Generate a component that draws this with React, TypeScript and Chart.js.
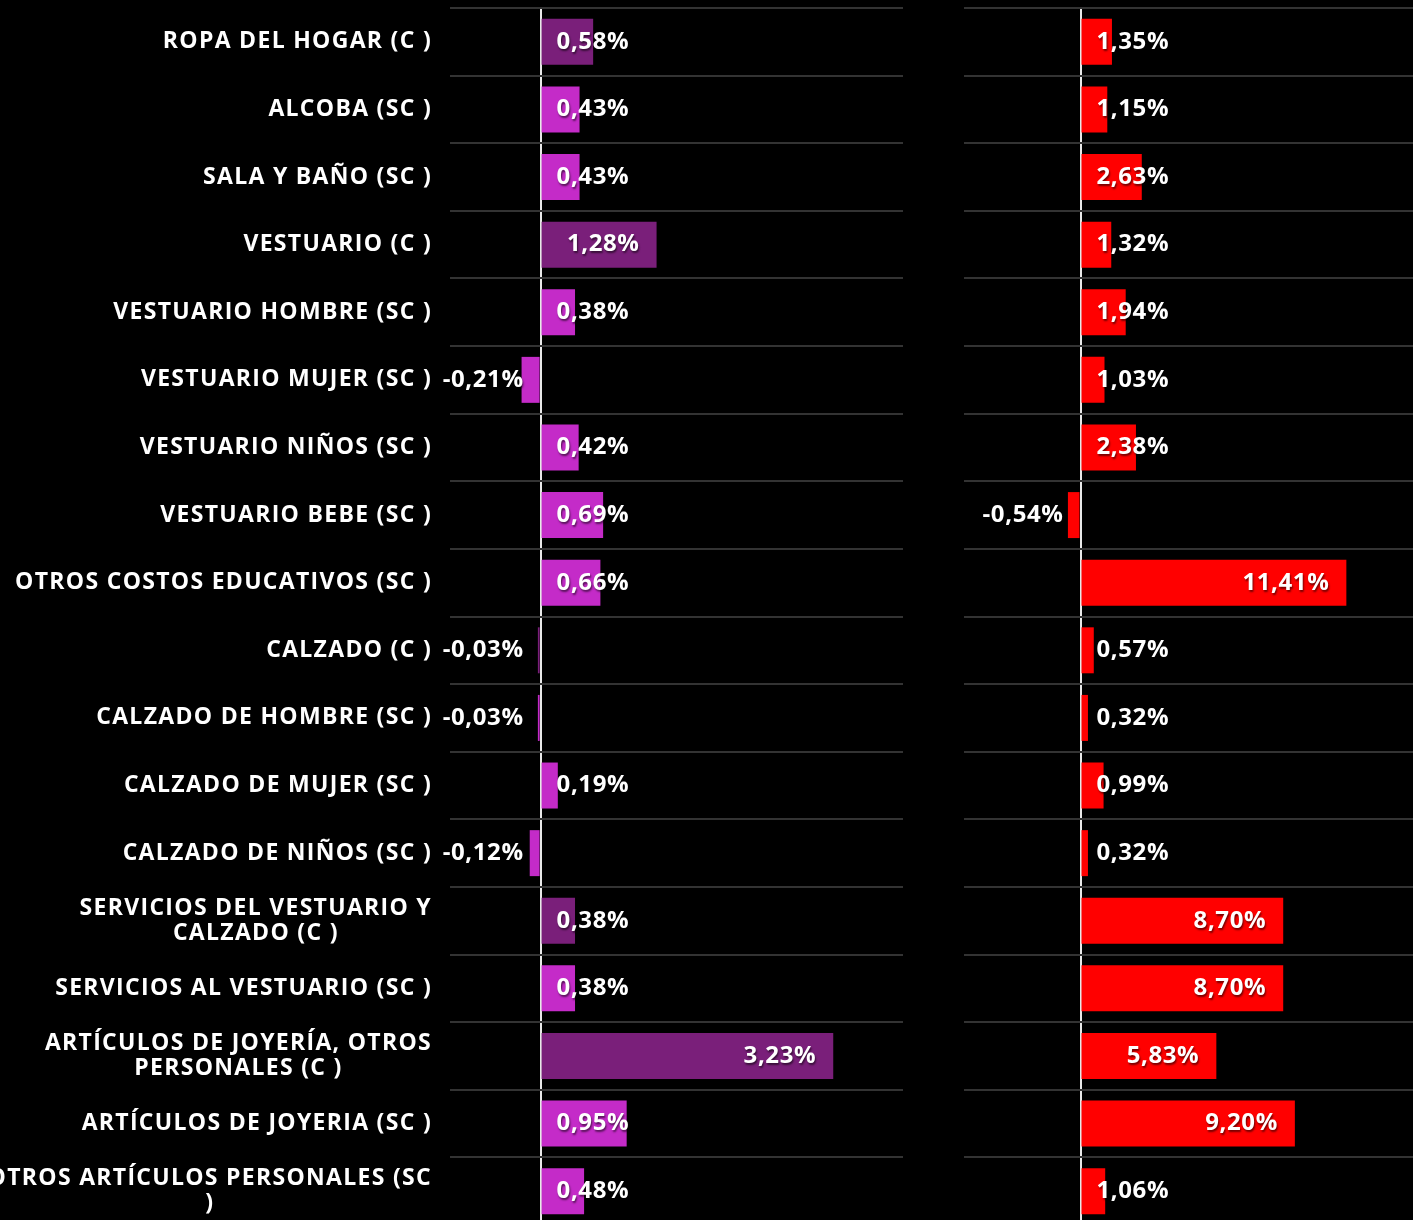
import { useEffect, useRef } from "react";
import { Chart, registerables } from "chart.js";

Chart.register(...registerables);

const categories: (string | string[])[] = [
  "ROPA DEL HOGAR (C )",
  "ALCOBA (SC )",
  "SALA Y BAÑO (SC )",
  "VESTUARIO (C )",
  "VESTUARIO HOMBRE (SC )",
  "VESTUARIO MUJER (SC )",
  "VESTUARIO NIÑOS (SC )",
  "VESTUARIO BEBE (SC )",
  "OTROS COSTOS EDUCATIVOS (SC )",
  "CALZADO (C )",
  "CALZADO DE HOMBRE (SC )",
  "CALZADO DE MUJER (SC )",
  "CALZADO DE NIÑOS (SC )",
  ["SERVICIOS DEL VESTUARIO Y", "CALZADO (C )"],
  "SERVICIOS AL VESTUARIO (SC )",
  ["ARTÍCULOS DE JOYERÍA, OTROS", "PERSONALES (C )"],
  "ARTÍCULOS DE JOYERIA (SC )",
  ["OTROS ARTÍCULOS PERSONALES (SC", ")"],
];

const leftValues = [0.58, 0.43, 0.43, 1.28, 0.38, -0.21, 0.42, 0.69, 0.66, -0.03, -0.03, 0.19, -0.12, 0.38, 0.38, 3.23, 0.95, 0.48];
const rightValues = [1.35, 1.15, 2.63, 1.32, 1.94, 1.03, 2.38, -0.54, 11.41, 0.57, 0.32, 0.99, 0.32, 8.7, 8.7, 5.83, 9.2, 1.06];

const COLOR_C = "#7A1F7A";
const COLOR_SC = "#C42BC8";
const COLOR_RIGHT = "#FF0000";
const GRID = "#333333";
const ZERO = "#e8e8e8";
const FONT_FAMILY = '"Open Sans", "Noto Sans", sans-serif';

const isGroup = (c: string | string[]) => (Array.isArray(c) ? c.join(" ") : c).includes("(C )");
const leftColors = categories.map((c) => (isGroup(c) ? COLOR_C : COLOR_SC));

const fmt = (v: number) => v.toFixed(2).replace(".", ",") + "%";

const valueLabelPlugin = {
  id: "valueLabels",
  afterDatasetsDraw(chart: any) {
    const ctx = chart.ctx;
    const meta = chart.getDatasetMeta(0);
    const xs = chart.scales.x;
    const zero = xs.getPixelForValue(0);
    const data = chart.data.datasets[0].data as number[];
    ctx.save();
    ctx.font = `bold 24px ${FONT_FAMILY}`;
    (ctx as any).letterSpacing = "0.6px";
    ctx.fillStyle = "#ffffff";
    ctx.textBaseline = "middle";
    ctx.shadowColor = "rgba(0,0,0,0.55)";
    ctx.shadowOffsetX = 1;
    ctx.shadowOffsetY = 2;
    ctx.shadowBlur = 2;
    meta.data.forEach((bar: any, i: number) => {
      const v = data[i];
      const txt = fmt(v);
      const w = ctx.measureText(txt).width;
      const y = bar.y;
      ctx.textAlign = "left";
      if (v >= 0) {
        const left = Math.max(bar.x - 17 - w, zero + 16);
        ctx.fillText(txt, left, y);
      } else {
        const right = Math.min(bar.x + 17 + w, zero - 17);
        ctx.fillText(txt, right - w, y);
      }
    });
    ctx.restore();
  },
};

const categoryLabelPlugin = {
  id: "categoryLabels",
  afterDraw(chart: any) {
    const ctx = chart.ctx;
    const ys = chart.scales.y;
    const rightEdge = ys.right - 18;
    ctx.save();
    ctx.font = `bold 23px ${FONT_FAMILY}`;
    (ctx as any).letterSpacing = "1.3px";
    ctx.fillStyle = "#ffffff";
    ctx.textBaseline = "middle";
    ctx.textAlign = "left";
    const lineH = 25;
    categories.forEach((c, i) => {
      const lines = Array.isArray(c) ? c : [c];
      const widths = lines.map((l) => ctx.measureText(l).width);
      const bw = Math.max(...widths);
      const cx = rightEdge - bw / 2;
      const yc = ys.getPixelForValue(i);
      const y0 = yc - ((lines.length - 1) * lineH) / 2;
      lines.forEach((l, k) => ctx.fillText(l, cx - widths[k] / 2, y0 + k * lineH));
    });
    ctx.restore();
  },
};

function makeConfig(values: number[], colors: string[] | string, xmin: number, xmax: number, yWidth: number, withLabels: boolean) {
  return {
    type: "bar" as const,
    data: {
      labels: categories.map((c) => (Array.isArray(c) ? c.join(" ") : c)),
      datasets: [
        {
          data: values,
          backgroundColor: colors,
          borderWidth: 0,
          barPercentage: 0.68,
          categoryPercentage: 1,
        },
      ],
    },
    options: {
      indexAxis: "y" as const,
      animation: false as const,
      responsive: false,
      maintainAspectRatio: false,
      layout: { padding: { top: 8, left: 0, right: 0, bottom: 0 } },
      plugins: { legend: { display: false }, tooltip: { enabled: false } },
      scales: {
        x: {
          min: xmin,
          max: xmax,
          ticks: { display: false, stepSize: 1 },
          grid: {
            drawTicks: false,
            lineWidth: 2,
            color: (c: any) => (c.tick && c.tick.value === 0 ? ZERO : "rgba(0,0,0,0)"),
          },
          border: { display: false },
          afterFit: (s: any) => {
            s.height = 0;
          },
        },
        y: {
          ticks: { display: false },
          grid: { drawTicks: false, lineWidth: 2, color: GRID, offset: true },
          border: { display: false },
          afterFit: (s: any) => {
            s.width = yWidth;
          },
        },
      },
    },
    plugins: withLabels ? [valueLabelPlugin, categoryLabelPlugin] : [valueLabelPlugin],
  };
}

export default function App() {
  const leftRef = useRef<HTMLCanvasElement>(null);
  const rightRef = useRef<HTMLCanvasElement>(null);

  useEffect(() => {
    document.documentElement.style.background = "#000000";
    document.body.style.background = "#000000";
    const left = new Chart(leftRef.current!, makeConfig(leftValues, leftColors, -1, 4, 450, true) as any);
    const right = new Chart(rightRef.current!, makeConfig(rightValues, COLOR_RIGHT, -5, 15, 0, false) as any);
    return () => {
      left.destroy();
      right.destroy();
    };
  }, []);

  return (
    <div
      style={{
        position: "fixed",
        left: 0,
        top: 0,
        width: 1413,
        height: 1220,
        overflow: "hidden",
        background: "#000000",
      }}
    >
      <canvas ref={leftRef} width={903} height={1225} style={{ position: "absolute", left: 0, top: 0 }} />
      <canvas ref={rightRef} width={466} height={1225} style={{ position: "absolute", left: 964, top: 0 }} />
    </div>
  );
}
